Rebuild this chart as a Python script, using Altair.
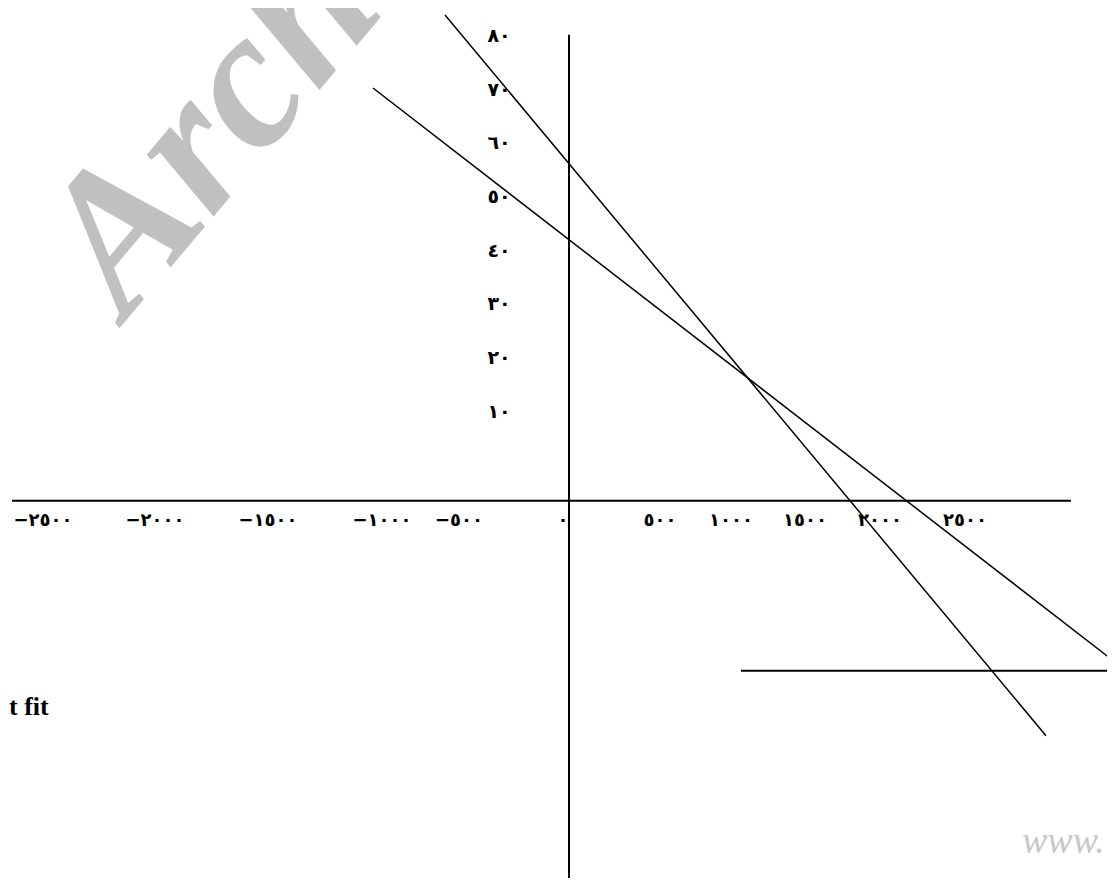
import altair as alt
import pandas as pd

# ---------------- data ----------------
# x-axis tick labels (Arabic-Indic digits) and where they sit along the axis
x_labels = ["−٢٥٠٠", "−٢٠٠٠", "−١٥٠٠", "−١٠٠٠", "−٥٠٠", "٠",
            "٥٠٠", "١٠٠٠", "١٥٠٠", "٢٠٠٠", "٢٥٠٠"]
x_label_pos = [-2630, -2070, -1505, -935, -550, -30, 455, 810, 1180, 1555, 1980]
x_label_level = -10.3

# y-axis tick labels and their values
y_labels = ["١٠", "٢٠", "٣٠", "٤٠", "٥٠", "٦٠", "٧٠", "٨٠"]
y_values = [10, 20, 30, 40, 50, 60, 70, 80]
y_label_pos = -350

# coordinate axes (drawn as lines)
axis_name = ["x-axis", "y-axis"]
axis_x1 = [-2785, 0]
axis_x2 = [2510, 0]
axis_y1 = [-6.57, 80.2]
axis_y2 = [-6.57, -80.0]

# the two straight lines
line_name = ["A", "A", "B", "B"]
line_x = [-620, 2385, -980, 2730]
line_y = [83.9, -50.3, 70.3, -36.6]

# horizontal segment lower right
hline_x1 = [860]
hline_x2 = [2730]
hline_y = [-38.2]

# annotation texts
wm_text = ["Archive"]
wm_x = [-2215]
wm_y = [27.0]
note_text = ["t fit"]
note_x = [-2800]
note_y = [-46.4]
www_text = ["www."]
www_x = [2265]
www_y = [-72.1]

# ---------------- chart ----------------
W, H = 1099, 870
xs = alt.Scale(domain=[-2805, 2690], nice=False, zero=False)
ys = alt.Scale(domain=[-76.8, 85.2], nice=False, zero=False)


def X(f):
    return alt.X(f, type="quantitative", scale=xs, axis=None)


def Y(f):
    return alt.Y(f, type="quantitative", scale=ys, axis=None)


wm_df = pd.DataFrame({"t": wm_text, "x": wm_x, "y": wm_y})
watermark = alt.Chart(wm_df).mark_text(
    font="Liberation Serif", fontStyle="italic", fontWeight="bold",
    fontSize=198, color="#c0c0c0", angle=310, align="left",
    baseline="alphabetic"
).encode(x=X("x"), y=Y("y"), text="t:N")

axes_df = pd.DataFrame({"n": axis_name, "x": axis_x1, "x2": axis_x2,
                        "y": axis_y1, "y2": axis_y2})
axes = alt.Chart(axes_df).mark_rule(color="black", strokeWidth=2).encode(
    x=X("x"), x2="x2", y=Y("y"), y2="y2")

lines_df = pd.DataFrame({"s": line_name, "x": line_x, "y": line_y})
lines = alt.Chart(lines_df).mark_line(color="black", strokeWidth=1.5).encode(
    x=X("x"), y=Y("y"), detail="s:N")

h_df = pd.DataFrame({"x": hline_x1, "x2": hline_x2, "y": hline_y})
hline = alt.Chart(h_df).mark_rule(color="black", strokeWidth=2).encode(
    x=X("x"), x2="x2", y=Y("y"))

xl_df = pd.DataFrame({"t": x_labels, "x": x_label_pos,
                      "y": [x_label_level] * len(x_labels)})
xlab = alt.Chart(xl_df).mark_text(
    font="DejaVu Sans", fontWeight="bold", fontSize=18, color="black",
    align="center", baseline="middle"
).encode(x=X("x"), y=Y("y"), text="t:N")

yl_df = pd.DataFrame({"t": y_labels, "y": y_values,
                      "x": [y_label_pos] * len(y_labels)})
ylab = alt.Chart(yl_df).mark_text(
    font="DejaVu Sans", fontWeight="bold", fontSize=19, color="black",
    align="center", baseline="middle"
).encode(x=X("x"), y=Y("y"), text="t:N")

note_df = pd.DataFrame({"t": note_text, "x": note_x, "y": note_y})
note = alt.Chart(note_df).mark_text(
    font="Liberation Serif", fontWeight="bold", fontSize=26, color="black",
    align="left", baseline="alphabetic"
).encode(x=X("x"), y=Y("y"), text="t:N")

www_df = pd.DataFrame({"t": www_text, "x": www_x, "y": www_y})
www = alt.Chart(www_df).mark_text(
    font="Liberation Serif", fontStyle="italic", fontSize=38,
    color="#c8c8c8", align="left", baseline="alphabetic"
).encode(x=X("x"), y=Y("y"), text="t:N")

chart = alt.layer(watermark, axes, lines, hline, xlab, ylab, note, www).properties(
    width=W, height=H, padding=0,
    autosize=alt.AutoSizeParams(type="none"),
    background="white",
).configure_view(strokeWidth=0)

chart.save("out.html", embed_options={"renderer": "svg", "actions": False})
